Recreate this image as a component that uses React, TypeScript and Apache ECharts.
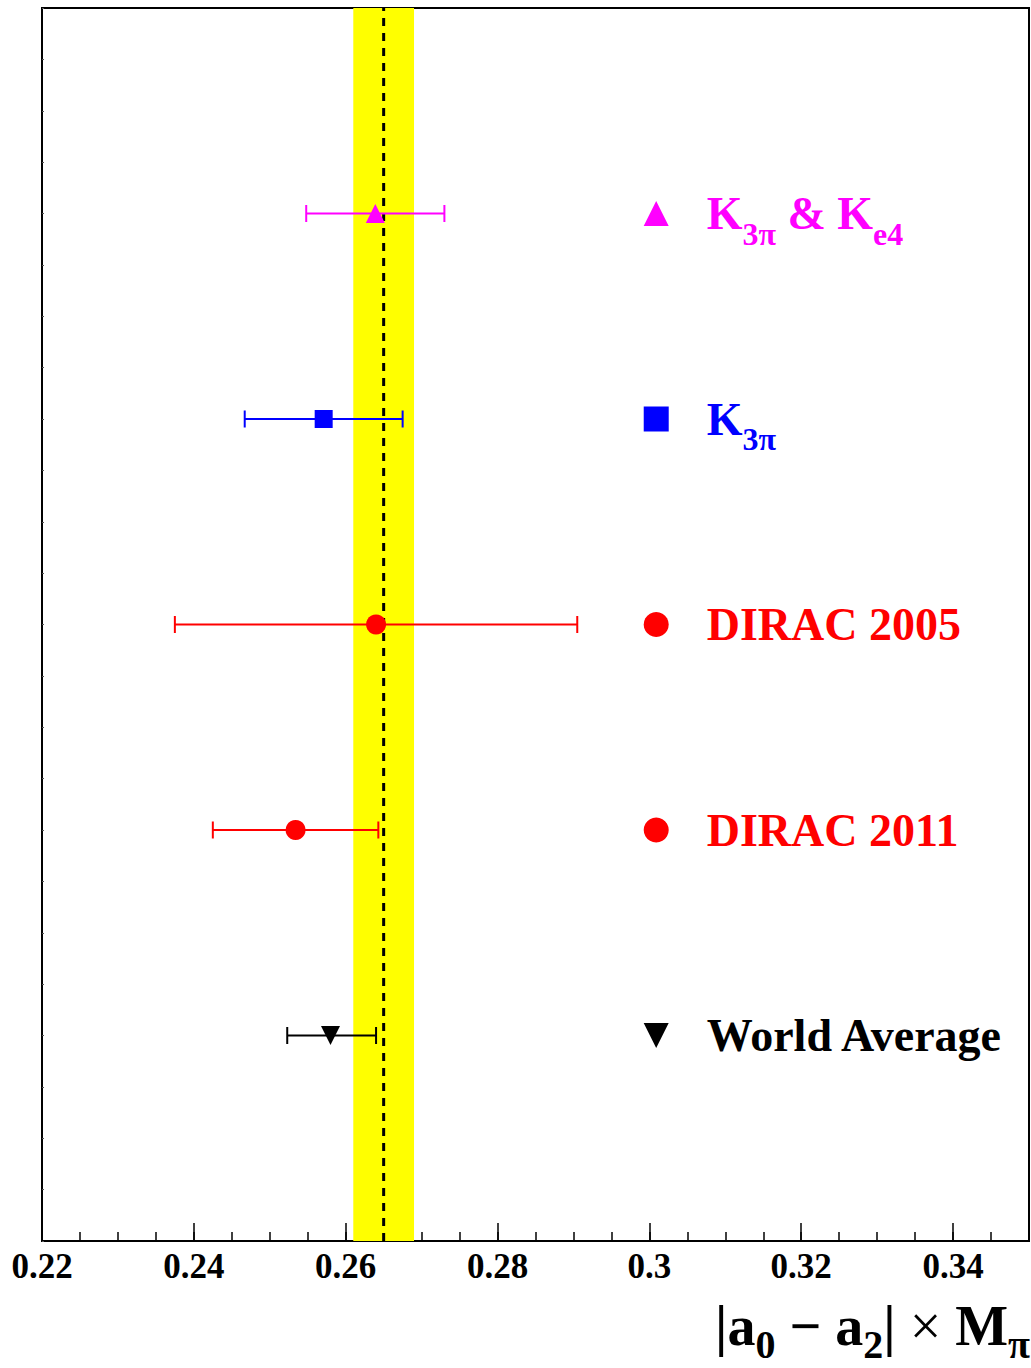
import React, { useEffect, useRef } from "react";
import * as echarts from "echarts";

const FONT = "'Liberation Serif', 'Times New Roman', serif";

const xMin = 0.22;
const xMax = 0.35;
const yMin = 0;
const yMax = 6;

const rowY = [5, 4, 3, 2, 1];
const central = [0.2639, 0.2571, 0.264, 0.2534, 0.258];
const lower = [0.2548, 0.2467, 0.2375, 0.2425, 0.2523];
const upper = [0.273, 0.2675, 0.2905, 0.2643, 0.264];
const colors = ["#ff00ff", "#0000ff", "#ff0000", "#ff0000", "#000000"];
const symbols = ["triangle", "rect", "circle", "circle", "triangle"];
const rotations = [0, 0, 0, 0, 180];
const pointSizes = [19, 18, 20, 20, 19];
const legendSizes = [25, 25, 25, 25, 25];
const legendLabels = [
  "{m|K}{s|3π}{m| & K}{s|e4}",
  "{m|K}{s|3π}",
  "{m|DIRAC 2005}",
  "{m|DIRAC 2011}",
  "{m|World Average}",
];
const legendX = 0.3009;
const bandRange = [0.261, 0.269];
const bandCenter = 0.265;

export default function App() {
  const ref = useRef<HTMLDivElement>(null);
  useEffect(() => {
    document.body.style.margin = "0";
    const chart = echarts.init(ref.current!, null, { renderer: "svg" });

    const errData = rowY.map((y, i) => [central[i], lower[i], upper[i], y]);

    const option: any = {
      animation: false,
      backgroundColor: "#ffffff",
      grid: {
        left: 42,
        top: 8,
        right: 2,
        bottom: 127,
        show: true,
        borderColor: "#000",
        borderWidth: 2,
        backgroundColor: "transparent",
      },
      xAxis: [
        {
          type: "value",
          min: xMin,
          max: xMax,
          interval: 0.02,
          axisLine: { lineStyle: { color: "#000", width: 2 } },
          axisTick: { inside: true, length: 18, lineStyle: { color: "#000", width: 1.5 } },
          splitLine: { show: false },
          axisLabel: {
            showMaxLabel: false,
            margin: 8,
            color: "#000",
            fontFamily: FONT,
            fontWeight: "bold",
            fontSize: 35,
            formatter: (v: number) => String(parseFloat(v.toFixed(2))),
          },
        },
        {
          type: "value",
          min: xMin,
          max: xMax,
          interval: 0.005,
          position: "bottom",
          axisLine: { show: false },
          axisTick: { inside: true, length: 9, lineStyle: { color: "#000", width: 1.5 } },
          splitLine: { show: false },
          axisLabel: { show: false },
        },
      ],
      yAxis: {
        type: "value",
        min: yMin,
        max: yMax,
        interval: 0.25,
        axisLine: { lineStyle: { color: "#000", width: 2 } },
        axisTick: { inside: true, length: 2, lineStyle: { color: "#555", width: 1 } },
        splitLine: { show: false },
        axisLabel: { show: false },
      },
      series: [
        {
          type: "line",
          data: [],
          z: 1,
          markArea: {
            silent: true,
            itemStyle: { color: "#ffff00", opacity: 1 },
            data: [[{ xAxis: bandRange[0] }, { xAxis: bandRange[1] }]],
          },
        },
        {
          type: "line",
          z: 2,
          symbol: "none",
          data: [
            [bandCenter, yMin],
            [bandCenter, yMax],
          ],
          lineStyle: { color: "#000", width: 3, type: [8, 7] },
        },
        {
          type: "custom",
          z: 3,
          data: errData,
          renderItem: (params: any, api: any) => {
            const i = params.dataIndex;
            const y = api.value(3);
            const p1 = api.coord([api.value(1), y]);
            const p2 = api.coord([api.value(2), y]);
            const cap = 8.5;
            const st = { stroke: colors[i], lineWidth: 2 };
            return {
              type: "group",
              children: [
                { type: "line", shape: { x1: p1[0], y1: p1[1], x2: p2[0], y2: p2[1] }, style: st },
                { type: "line", shape: { x1: p1[0], y1: p1[1] - cap, x2: p1[0], y2: p1[1] + cap }, style: st },
                { type: "line", shape: { x1: p2[0], y1: p2[1] - cap, x2: p2[0], y2: p2[1] + cap }, style: st },
              ],
            };
          },
        },
        {
          type: "scatter",
          z: 4,
          data: rowY.map((y, i) => ({
            value: [central[i], y],
            symbol: symbols[i],
            symbolSize: pointSizes[i],
            symbolRotate: rotations[i],
            itemStyle: { color: colors[i], opacity: 1 },
          })),
        },
        {
          type: "scatter",
          z: 4,
          data: rowY.map((y, i) => ({
            value: [legendX, y],
            symbol: symbols[i],
            symbolSize: legendSizes[i],
            symbolRotate: rotations[i],
            itemStyle: { color: colors[i], opacity: 1 },
            label: {
              show: true,
              position: "right",
              distance: 38,
              formatter: legendLabels[i],
              rich: {
                m: {
                  fontFamily: FONT,
                  fontWeight: "bold",
                  fontSize: 46,
                  color: colors[i],
                  lineHeight: 72,
                },
                s: {
                  fontFamily: FONT,
                  fontWeight: "bold",
                  fontSize: 32,
                  color: colors[i],
                  lineHeight: 32,
                  verticalAlign: "bottom",
                },
              },
            },
          })),
        },
      ],
      graphic: [
        {
          type: "text",
          x: 1030,
          y: 1326,
          style: {
            text: "{m||a}{s|0}{m| − a}{s|2}{m||}{x| × }{m|M}{s|π}",
            align: "right",
            verticalAlign: "middle",
            rich: {
              m: { fontFamily: FONT, fontWeight: "bold", fontSize: 56, color: "#000", lineHeight: 76 },
              x: { fontFamily: FONT, fontWeight: "normal", fontSize: 56, color: "#000", lineHeight: 76 },
              s: {
                fontFamily: FONT,
                fontWeight: "bold",
                fontSize: 40,
                color: "#000",
                lineHeight: 40,
                verticalAlign: "bottom",
              },
            },
          },
        },
      ],
    };
    chart.setOption(option);
    return () => chart.dispose();
  }, []);
  return <div ref={ref} style={{ width: 1031, height: 1368 }} />;
}
